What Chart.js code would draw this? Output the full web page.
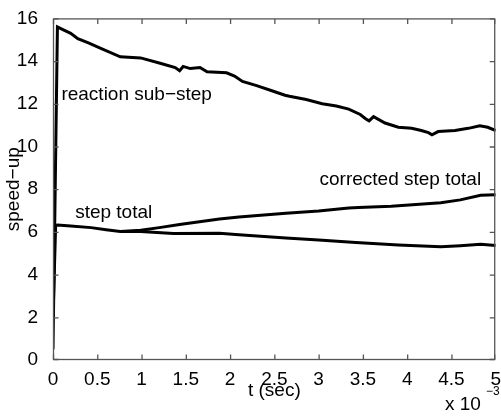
<!DOCTYPE html>
<html>
<head>
<meta charset="utf-8">
<script src="https://cdn.jsdelivr.net/npm/chart.js@4/dist/chart.umd.min.js"></script>
<style>
  html, body { margin: 0; padding: 0; background: #fff; overflow: hidden; }
  #wrap { width: 501px; height: 416px; }
  canvas { display: block; }
</style>
</head>
<body>
<div id="wrap"><canvas id="speedup" width="501" height="416"></canvas></div>
<script>
// time in units of 1e-3 sec, speed-up values read per curve
var reactionT = [0, 0.05, 0.1, 0.2, 0.28, 0.4, 0.54, 0.76, 0.99, 1.21, 1.38, 1.43, 1.47, 1.55, 1.66, 1.74, 1.96, 2.05, 2.14, 2.3, 2.48, 2.62, 2.67, 2.86, 3.04, 3.2, 3.34, 3.47, 3.53, 3.57, 3.62, 3.75, 3.9, 4.05, 4.16, 4.24, 4.28, 4.35, 4.54, 4.69, 4.82, 4.91, 5.0];
var reactionY = [0.5, 15.6, 15.5, 15.3, 15.05, 14.85, 14.6, 14.2, 14.15, 13.9, 13.7, 13.55, 13.75, 13.65, 13.7, 13.5, 13.45, 13.3, 13.05, 12.85, 12.6, 12.4, 12.35, 12.2, 12.0, 11.9, 11.75, 11.5, 11.3, 11.2, 11.4, 11.1, 10.9, 10.85, 10.75, 10.65, 10.55, 10.7, 10.75, 10.85, 10.97, 10.9, 10.75];

var stepT = [0, 0.03, 0.05, 0.2, 0.43, 0.6, 0.76, 0.99, 1.36, 1.88, 2.1, 2.63, 3.0, 3.42, 3.9, 4.38, 4.6, 4.83, 5.0];
var stepY = [2.0, 6.3, 6.32, 6.28, 6.2, 6.1, 6.02, 6.02, 5.93, 5.94, 5.87, 5.71, 5.62, 5.5, 5.39, 5.3, 5.35, 5.42, 5.36];

var correctedT = [0.76, 0.99, 1.2, 1.43, 1.88, 2.1, 2.63, 3.0, 3.34, 3.45, 3.82, 4.1, 4.38, 4.6, 4.83, 5.0];
var correctedY = [6.02, 6.08, 6.2, 6.35, 6.6, 6.7, 6.87, 6.98, 7.12, 7.14, 7.2, 7.28, 7.37, 7.5, 7.72, 7.74];

var xTicks = [0, 0.5, 1, 1.5, 2, 2.5, 3, 3.5, 4, 4.5, 5];
var yTicks = [0, 2, 4, 6, 8, 10, 12, 14, 16];

// curve labels: text, x (1e-3 sec), y
var labelText = ['reaction sub\u2212step', 'step total', 'corrected step total'];
var labelX = [0.095, 0.25, 3.01];
var labelY = [12.4, 6.9, 8.45];

var FONT = 'Liberation Sans, Arial, Helvetica, sans-serif';
var FSIZE = 19;

function pts(t, y) {
    var out = [];
    for (var i = 0; i < t.length; i++) out.push({x: t[i], y: y[i]});
    return out;
}

function line(t, y) {
    return {
        data: pts(t, y),
        borderColor: '#000',
        borderWidth: 3,
        pointRadius: 0,
        tension: 0,
        fill: false
    };
}

function fixedTicks(list) {
    return function(s) {
        s.ticks = list.map(function(v) { return {value: v}; });
    };
}

// frame with inward ticks, curve labels, exponent note
var matlabAxes = {
    id: 'matlabAxes',
    afterDraw: function(chart) {
        var ctx = chart.ctx;
        var xs = chart.scales.x, ys = chart.scales.y;
        var L = xs.getPixelForValue(0) + 0.5;
        var R = xs.getPixelForValue(5) - 1;
        var T = ys.getPixelForValue(16) + 0.5;
        var B = ys.getPixelForValue(0) - 0.5;
        var len = 5;
        ctx.save();
        ctx.strokeStyle = '#555555';
        ctx.lineWidth = 1.3;
        ctx.strokeRect(L, T, R - L, B - T);
        ctx.beginPath();
        xTicks.forEach(function(v) {
            var px = Math.min(xs.getPixelForValue(v) + 0.5, R);
            ctx.moveTo(px, B); ctx.lineTo(px, B - len);
            ctx.moveTo(px, T); ctx.lineTo(px, T + len);
        });
        yTicks.forEach(function(v) {
            var py = Math.min(ys.getPixelForValue(v) + 0.5, B);
            ctx.moveTo(L, py); ctx.lineTo(L + len, py);
            ctx.moveTo(R, py); ctx.lineTo(R - len, py);
        });
        ctx.stroke();

        ctx.fillStyle = '#000';
        ctx.font = FSIZE + 'px ' + FONT;
        ctx.textAlign = 'left';
        ctx.textBaseline = 'middle';
        for (var i = 0; i < labelText.length; i++) {
            ctx.fillText(labelText[i], xs.getPixelForValue(labelX[i]), ys.getPixelForValue(labelY[i]));
        }

        ctx.textBaseline = 'alphabetic';
        ctx.fillText('x 10', 445, 410);
        ctx.font = '12px ' + FONT;
        ctx.fillText('\u22123', 486, 395);
        ctx.restore();
    }
};

new Chart(document.getElementById('speedup'), {
    type: 'line',
    data: {
        datasets: [
            line(reactionT, reactionY),
            line(stepT, stepY),
            line(correctedT, correctedY)
        ]
    },
    options: {
        responsive: false,
        animation: false,
        layout: {
            autoPadding: false,
            padding: {top: 13, right: 3, bottom: 0, left: 0}
        },
        plugins: {
            legend: {display: false},
            tooltip: {enabled: false}
        },
        scales: {
            x: {
                type: 'linear',
                min: 0,
                max: 5,
                grid: {display: false},
                border: {display: false},
                afterFit: function(s) { s.height = 56; },
                afterBuildTicks: fixedTicks(xTicks),
                ticks: {
                    color: '#000',
                    padding: 0,
                    maxRotation: 0,
                    autoSkip: false,
                    font: {family: FONT, size: FSIZE},
                    callback: function(v) { return String(v); }
                },
                title: {
                    display: true,
                    text: 't (sec)',
                    color: '#000',
                    padding: {top: 0, bottom: 14},
                    font: {family: FONT, size: FSIZE}
                }
            },
            y: {
                min: 0,
                max: 16,
                grid: {display: false},
                border: {display: false},
                afterFit: function(s) { s.width = 53; },
                afterBuildTicks: fixedTicks(yTicks),
                ticks: {
                    color: '#000',
                    padding: 7,
                    font: {family: FONT, size: FSIZE}
                },
                title: {
                    display: true,
                    text: 'speed\u2212up',
                    color: '#000',
                    padding: {top: 2, bottom: 0},
                    font: {family: FONT, size: FSIZE}
                }
            }
        }
    },
    plugins: [matlabAxes]
});
</script>
</body>
</html>
